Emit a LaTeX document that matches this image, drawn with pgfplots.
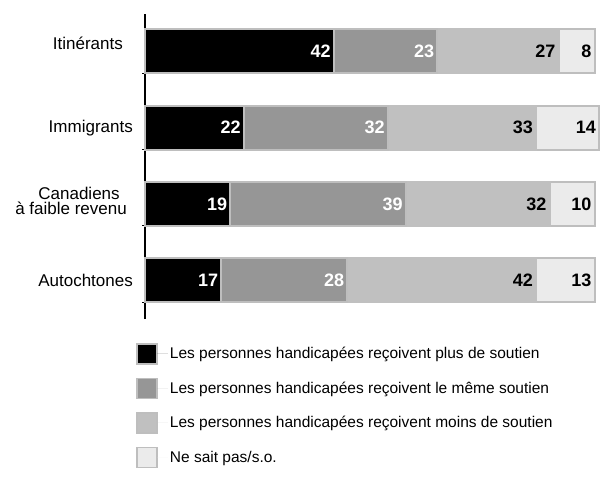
\documentclass[border=0pt]{standalone}
\usepackage{fontspec}
\setmainfont{Liberation Sans}
\usepackage{pgfplots}
\pgfplotsset{compat=1.18}
\definecolor{cplus}{HTML}{000000}
\definecolor{cmeme}{HTML}{969696}
\definecolor{cmoins}{HTML}{C0C0C0}
\definecolor{cnsp}{HTML}{EBEBEB}
\definecolor{cbord}{HTML}{BEBEBE}

% categories bottom-up: 0 Autochtones, 1 Canadiens, 2 Immigrants, 3 Itinérants
\pgfplotsset{
    frame/.style={
        at={(145pt,164pt)}, anchor=south west,
        scale only axis,
        width=455pt, height=305pt,
        xmin=0, xmax=101.2,
        ymin=-0.51, ymax=3.49,
        clip=false,
    },
}

\begin{document}
\begin{tikzpicture}
\useasboundingbox (0,0) rectangle (600pt,483pt);
\begin{axis}[
    frame,
    xbar stacked,
    bar width=0.577,
    axis x line=none,
    axis y line*=left,
    y axis line style={black, line width=1.6pt},
    ytick={0,1,2,3},
    yticklabels={Autochtones,
                 \raisebox{6pt}{\shortstack{\hspace*{10pt}Canadiens\\à faible revenu\hspace*{6pt}}},
                 Immigrants,
                 \raisebox{16pt}{Itinérants}\hspace*{10pt}},
    yticklabel style={font=\fontsize{17}{17.5}\selectfont,
                      inner sep=0pt, xshift=-12pt},
    major tick length=0pt,
    extra y ticks={-0.29,0.71,1.71,2.71},
    extra y tick labels={},
    extra y tick style={major tick length=5pt, tick align=center,
                        tick style={black, line width=1pt}},
    legend style={at={(-0.0264,-0.0721)}, anchor=north west, draw=none, fill=none,
                  row sep=13pt,
                  font=\fontsize{15.5}{16}\selectfont},
    legend cell align=left,
    legend image code/.code={\draw[#1, draw=cbord, line width=1.5pt]
        (0pt,-10pt) rectangle (20pt,10pt);
        \path[draw=none] (20pt,0) -- (31pt,0);},
]
\addplot[fill=cplus, draw=cbord, line width=2pt] coordinates {
    (17,0) (19,1) (22,2) (42,3)
};
\addplot[fill=cmeme, draw=cbord, line width=2pt] coordinates {
    (28,0) (39,1) (32,2) (23,3)
};
\addplot[fill=cmoins, draw=cmoins, line width=2pt] coordinates {
    (42,0) (32,1) (33,2) (27,3)
};
\addplot[fill=cnsp, draw=cbord, line width=2pt] coordinates {
    (13,0) (10,1) (14,2) (8,3)
};
\legend{Les personnes handicapées reçoivent plus de soutien,
        Les personnes handicapées reçoivent le même soutien,
        Les personnes handicapées reçoivent moins de soutien,
        Ne sait pas/s.o.}
\end{axis}

% value labels, right-aligned at the end of each segment
\begin{axis}[
    frame,
    hide axis,
    point meta=explicit symbolic,
    nodes near coords={\llap{\pgfplotspointmeta}},
    every node near coord/.append style={anchor=east, inner sep=0pt, xshift=-2.5pt,
                                         font=\fontsize{18}{18}\selectfont\bfseries},
]
\addplot[draw=none, mark=none, every node near coord/.append style={text=white}]
    coordinates {(17,0) [17] (19,1) [19] (22,2) [22] (42,3) [42]};
\addplot[draw=none, mark=none, every node near coord/.append style={text=white}]
    coordinates {(45,0) [28] (58,1) [39] (54,2) [32] (65,3) [23]};
\addplot[draw=none, mark=none, every node near coord/.append style={text=black}]
    coordinates {(87,0) [42] (90,1) [32] (87,2) [33] (92,3) [27]};
\addplot[draw=none, mark=none, every node near coord/.append style={text=black}]
    coordinates {(100,0) [13] (100,1) [10] (101,2) [14] (100,3) [8]};
\end{axis}
\end{tikzpicture}
\end{document}
